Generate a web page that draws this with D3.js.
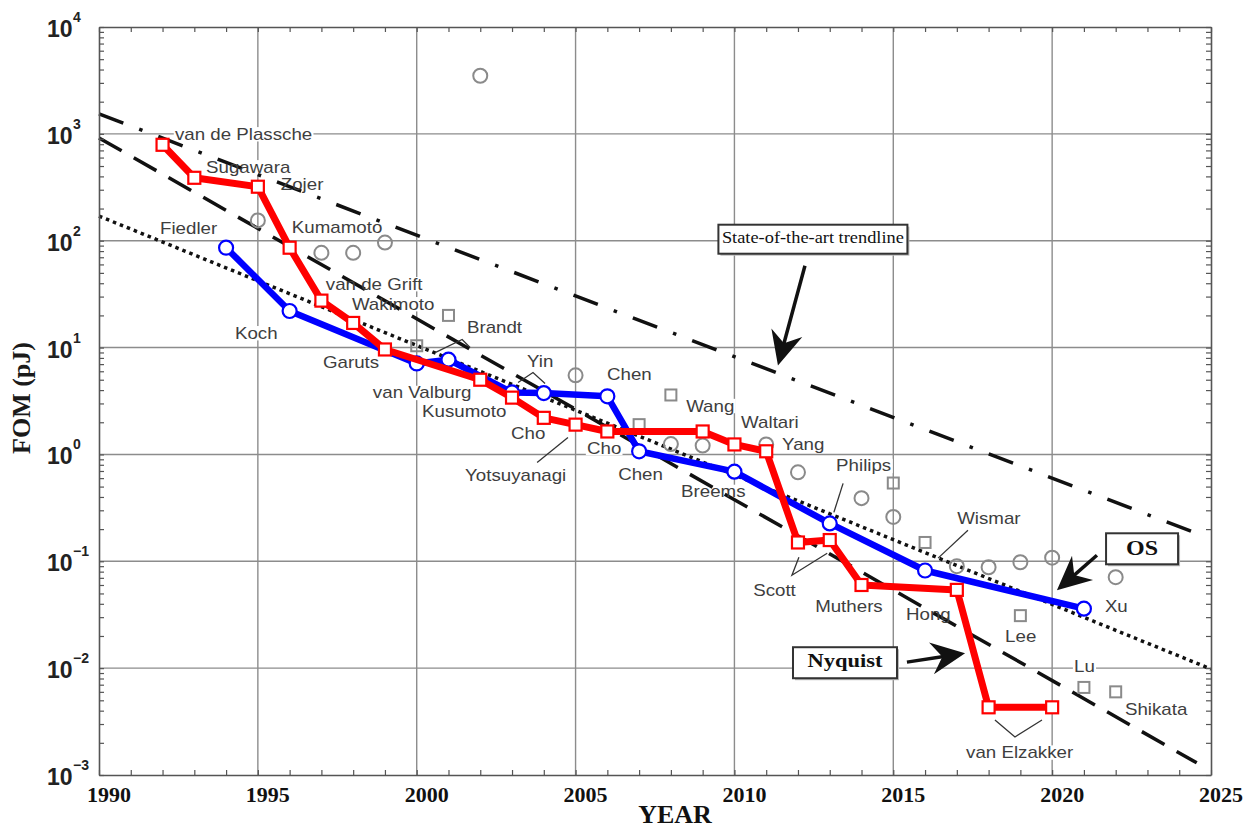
<!DOCTYPE html>
<html>
<head>
<meta charset="utf-8">
<script src="https://cdn.jsdelivr.net/npm/d3@7/dist/d3.min.js"></script>
<style>
body { margin: 0; background: #fff; }
.lbl { font-family: "Liberation Sans", Arial, sans-serif; font-size: 16px; fill: #3e3e3e; }
</style>
</head>
<body>
<div id="main_div"></div>
<script>
// state-of-the-art Nyquist converters (red)
var nyqYears = [1992, 1993, 1995, 1996, 1997, 1998, 1999, 2002, 2003, 2004, 2005, 2006, 2009, 2010, 2011, 2012, 2013, 2014, 2017, 2018, 2020];
var nyqFom = [790, 388, 320, 86, 27.5, 17, 9.6, 5.0, 3.4, 2.2, 1.9, 1.64, 1.64, 1.24, 1.07, 0.15, 0.158, 0.06, 0.054, 0.0043, 0.0043];

// state-of-the-art oversampled converters (blue)
var osYears = [1994, 1996, 2000, 2001, 2003, 2004, 2006, 2007, 2010, 2013, 2016, 2021];
var osFom = [86, 22, 7.1, 7.7, 3.8, 3.75, 3.5, 1.07, 0.69, 0.226, 0.082, 0.036];

// other designs (grey)
var otherOsYears = [1995, 1997, 1998, 1999, 2002, 2005, 2008, 2009, 2011, 2012, 2014, 2015, 2017, 2018, 2019, 2020, 2022];
var otherOsFom = [155, 77, 77, 96, 3500, 5.5, 1.25, 1.21, 1.24, 0.68, 0.39, 0.26, 0.09, 0.088, 0.098, 0.108, 0.071];
var otherNyqYears = [2000, 2001, 2007, 2008, 2015, 2016, 2019, 2021, 2022];
var otherNyqFom = [10.4, 20, 1.9, 3.6, 0.54, 0.15, 0.031, 0.0066, 0.006];

// trend lines: [start year, end year], [start FOM, end FOM]
var dottedYears = [1990, 2025], dottedFom = [170, 0.0098];
var dashedYears = [1990, 2024.55], dashedFom = [915, 0.0013];
var dashDotYears = [1990, 2024.8], dashDotFom = [1540, 0.171];

// tick labels
var xTickYears = [1990, 1995, 2000, 2005, 2010, 2015, 2020, 2025];
var yTickExps = [-3, -2, -1, 0, 1, 2, 3, 4];

// author labels: text, year, FOM (left / baseline)
var labelNames = ["van de Plassche", "Sugawara", "Zojer", "Kumamoto", "Fiedler", "van de Grift", "Wakimoto", "Koch", "Garuts", "Brandt", "Yin", "van Valburg", "Kusumoto", "Cho", "Yotsuyanagi", "Cho", "Chen", "Chen", "Wang", "Waltari", "Yang", "Breems", "Philips", "Scott", "Muthers", "Hong", "Wismar", "Lee", "Lu", "Xu", "Shikata", "van Elzakker"];
var labelYears = [1992.39, 1993.37, 1995.72, 1996.07, 1991.92, 1997.14, 1997.96, 1994.28, 1997.05, 2001.58, 2003.47, 1998.62, 2000.17, 2002.97, 2001.52, 2005.36, 2005.99, 2006.34, 2008.48, 2010.21, 2011.5, 2008.32, 2013.2, 2010.59, 2012.54, 2015.4, 2017.01, 2018.52, 2020.69, 2021.66, 2022.29, 2017.29];
var labelFom = [880, 432, 300, 119, 116, 34.8, 22.6, 12.1, 6.5, 13.8, 6.64, 3.34, 2.22, 1.38, 0.56, 1.02, 4.92, 0.571, 2.52, 1.75, 1.11, 0.396, 0.693, 0.0471, 0.0334, 0.0281, 0.222, 0.0175, 0.00918, 0.0334, 0.00364, 0.00144];

// leader lines / brackets
var leaders = [
    [[2000.58, 8.98], [2001.43, 11.9], [2001.68, 10.0]],
    [[2003.19, 4.71], [2003.66, 5.84], [2004.04, 4.61]],
    [[2003.79, 0.842], [2004.76, 1.44]],
    [[2013.42, 0.536], [2013.13, 0.287]],
    [[2012.03, 0.109], [2011.81, 0.074], [2012.92, 0.119]],
    [[2017.35, 0.195], [2016.41, 0.107]],
    [[2018.2, 0.00327], [2018.83, 0.00227], [2019.68, 0.00327]]
];

// boxed annotations with arrows
var notes = [
    {text: "State-of-the-art trendline", year: 2012.47, fom: 95.8, w: 189, h: 29, up: 18, size: 17, bold: false, len: 182,
     from: [2012.22, 58.4], to: [2011.37, 6.79]},
    {text: "OS", year: 2022.83, fom: 0.1138, w: 72, h: 31, up: 22, size: 20, bold: true, len: 32,
     from: [2021.41, 0.1138], to: [2020.15, 0.0536]},
    {text: "Nyquist", year: 2013.48, fom: 0.0102, w: 104, h: 31, up: 20, size: 19, bold: true, len: 75,
     from: [2015.43, 0.01138], to: [2017.26, 0.0138]}
];

var x_scale = d3.scaleLinear().domain([1990, 2025]).range([99, 1211]);
var y_scale = d3.scaleLog().domain([1e-3, 1e4]).range([775, 27]);

var svg = d3.select("#main_div").append("svg").attr("width", 1258).attr("height", 831);
svg.append("rect").attr("width", 1258).attr("height", 831).attr("fill", "#fff");

// grid
var grid = svg.append("g").attr("stroke", "#8c8c8c").attr("stroke-width", 1.4);
grid.selectAll("line.v").data(d3.range(1995, 2021, 5)).enter().append("line")
    .attr("x1", function(d) { return x_scale(d); }).attr("x2", function(d) { return x_scale(d); })
    .attr("y1", y_scale(1e4)).attr("y2", y_scale(1e-3));
grid.selectAll("line.h").data([1e-2, 1e-1, 1, 10, 100, 1000]).enter().append("line")
    .attr("y1", function(d) { return y_scale(d); }).attr("y2", function(d) { return y_scale(d); })
    .attr("x1", x_scale(1990)).attr("x2", x_scale(2025));

var bgLayer = svg.append("g");

// trend lines
var line = d3.line().x(function(d) { return x_scale(d[0]); }).y(function(d) { return y_scale(d[1]); });
svg.append("path").datum(d3.zip(dottedYears, dottedFom)).attr("d", line)
    .attr("fill", "none").attr("stroke", "#111").attr("stroke-width", 3.5).attr("stroke-dasharray", "3.5,4");
svg.append("path").datum(d3.zip(dashedYears, dashedFom)).attr("d", line)
    .attr("fill", "none").attr("stroke", "#111").attr("stroke-width", 3.5).attr("stroke-dasharray", "26,14");
svg.append("path").datum(d3.zip(dashDotYears, dashDotFom)).attr("d", line)
    .attr("fill", "none").attr("stroke", "#111").attr("stroke-width", 3.5).attr("stroke-dasharray", "26,17,3.5,17");

// grey markers
svg.append("g").selectAll("circle").data(d3.zip(otherOsYears, otherOsFom)).enter().append("circle")
    .attr("cx", function(d) { return x_scale(d[0]); })
    .attr("cy", function(d) { return y_scale(d[1]); })
    .attr("r", 7).attr("fill", "none").attr("stroke", "#8a8a8a").attr("stroke-width", 2);
svg.append("g").selectAll("rect").data(d3.zip(otherNyqYears, otherNyqFom)).enter().append("rect")
    .attr("x", function(d) { return x_scale(d[0]) - 5.5; })
    .attr("y", function(d) { return y_scale(d[1]) - 5.5; })
    .attr("width", 11).attr("height", 11).attr("fill", "none").attr("stroke", "#8a8a8a").attr("stroke-width", 2);

// OS series
var os = d3.zip(osYears, osFom);
svg.append("path").datum(os).attr("d", line).attr("fill", "none").attr("stroke", "#0000ff")
    .attr("stroke-width", 6.5).attr("stroke-linejoin", "round");
svg.append("g").selectAll("circle").data(os).enter().append("circle")
    .attr("cx", function(d) { return x_scale(d[0]); })
    .attr("cy", function(d) { return y_scale(d[1]); })
    .attr("r", 7).attr("fill", "#fff").attr("stroke", "#0000ff").attr("stroke-width", 2.2);

// Nyquist series
var nyq = d3.zip(nyqYears, nyqFom);
svg.append("path").datum(nyq).attr("d", line).attr("fill", "none").attr("stroke", "#ff0000")
    .attr("stroke-width", 7).attr("stroke-linejoin", "round");
svg.append("g").selectAll("rect").data(nyq).enter().append("rect")
    .attr("x", function(d) { return x_scale(d[0]) - 6; })
    .attr("y", function(d) { return y_scale(d[1]) - 6; })
    .attr("width", 12).attr("height", 12).attr("fill", "#fff").attr("stroke", "#ff0000").attr("stroke-width", 2.2);

// author labels (with white backing that breaks the grid)
var labels = d3.zip(labelNames, labelYears, labelFom);
var lblG = svg.append("g").selectAll("g").data(labels).enter().append("g")
    .attr("transform", function(d) { return "translate(" + x_scale(d[1]) + "," + y_scale(d[2]) + ") scale(1.17,1)"; });
lblG.append("text").attr("class", "lbl").text(function(d) { return d[0]; });
lblG.each(function(d) {
    var b = d3.select(this).select("text").node().getBBox();
    bgLayer.append("rect").attr("transform", d3.select(this).attr("transform"))
        .attr("x", b.x - 1).attr("y", b.y + 2).attr("width", b.width + 2).attr("height", b.height - 4)
        .attr("fill", "#fff");
});

// leaders
svg.append("g").selectAll("path").data(leaders).enter().append("path")
    .attr("d", line).attr("fill", "none").attr("stroke", "#333").attr("stroke-width", 1.3);

// annotations
notes.forEach(function(n) {
    var cx = x_scale(n.year), by = y_scale(n.fom);
    svg.append("rect").attr("x", cx - n.w / 2 + 2).attr("y", by - n.up + 2).attr("width", n.w).attr("height", n.h)
        .attr("fill", "#bbb");
    svg.append("rect").attr("x", cx - n.w / 2).attr("y", by - n.up).attr("width", n.w).attr("height", n.h)
        .attr("fill", "#fff").attr("stroke", "#333").attr("stroke-width", 2);
    svg.append("text").attr("x", cx).attr("y", by).attr("text-anchor", "middle")
        .attr("font-family", "'Liberation Serif', 'Times New Roman', serif")
        .attr("font-weight", n.bold ? "bold" : "normal").attr("font-size", n.size)
        .attr("textLength", n.len).attr("lengthAdjust", "spacingAndGlyphs")
        .attr("fill", "#111").text(n.text);
    var x0 = x_scale(n.from[0]), y0 = y_scale(n.from[1]);
    var x1 = x_scale(n.to[0]), y1 = y_scale(n.to[1]);
    var ang = Math.atan2(y1 - y0, x1 - x0);
    var len = Math.sqrt((x1 - x0) * (x1 - x0) + (y1 - y0) * (y1 - y0));
    var g = svg.append("g").attr("transform", "translate(" + x0 + "," + y0 + ") rotate(" + (ang * 180 / Math.PI) + ")");
    g.append("line").attr("x1", 0).attr("y1", 0).attr("x2", len - 20).attr("y2", 0)
        .attr("stroke", "#111").attr("stroke-width", 3.5);
    g.append("path").attr("d", "M" + len + ",0 L" + (len - 34) + ",-16 L" + (len - 23) + ",0 L" + (len - 34) + ",16 Z")
        .attr("fill", "#111");
});

// frame and ticks
var minorY = [];
d3.range(-3, 4).forEach(function(e) {
    d3.range(1, 10).forEach(function(k) { minorY.push(k * Math.pow(10, e)); });
});
minorY.push(1e4);
var years = d3.range(1990, 2026);
var axes = svg.append("g");
axes.append("g").attr("transform", "translate(0,775)")
    .call(d3.axisBottom(x_scale).tickValues(years).tickSize(-5).tickSizeOuter(0).tickFormat(""));
axes.append("g").attr("transform", "translate(0,27)")
    .call(d3.axisTop(x_scale).tickValues(years).tickSize(-5).tickSizeOuter(0).tickFormat(""));
axes.append("g").attr("transform", "translate(99,0)")
    .call(d3.axisLeft(y_scale).tickValues(minorY).tickSize(-5).tickSizeOuter(0).tickFormat(""));
axes.append("g").attr("transform", "translate(1211,0)")
    .call(d3.axisRight(y_scale).tickValues(minorY).tickSize(-5).tickSizeOuter(0).tickFormat(""));
axes.selectAll("path.domain").attr("stroke", "#555").attr("stroke-width", 1.6);
axes.selectAll(".tick line").attr("stroke", "#555").attr("stroke-width", 1.2);

// tick labels
svg.append("g").selectAll("text").data(xTickYears).enter().append("text")
    .attr("x", function(d) { return x_scale(d) + 10; }).attr("y", 802)
    .attr("text-anchor", "middle").attr("font-family", "'Liberation Serif', 'Times New Roman', serif")
    .attr("font-weight", "bold").attr("font-size", 22).attr("fill", "#111")
    .text(function(d) { return d; });
var yl = svg.append("g").selectAll("g").data(yTickExps).enter().append("g")
    .attr("font-family", "'Liberation Sans', Arial, sans-serif").attr("font-weight", "bold").attr("fill", "#222");
yl.append("text").attr("x", 47).attr("y", function(d) { return y_scale(Math.pow(10, d)) + 10; })
    .attr("font-size", 23).text("10");
yl.append("text").attr("x", 73).attr("y", function(d) { return y_scale(Math.pow(10, d)) - 5; })
    .attr("font-size", 14).text(function(d) { return d < 0 ? "\u2212" + (-d) : d; });

// axis titles
svg.append("text").attr("x", 675).attr("y", 823).attr("text-anchor", "middle")
    .attr("font-family", "'Liberation Serif', 'Times New Roman', serif").attr("font-weight", "bold")
    .attr("font-size", 26).attr("fill", "#111").text("YEAR");
svg.append("text").attr("transform", "translate(30,398) rotate(-90)").attr("text-anchor", "middle")
    .attr("font-family", "'Liberation Serif', 'Times New Roman', serif").attr("font-weight", "bold")
    .attr("font-size", 26).attr("fill", "#1a1a1a").text("FOM (pJ)");
</script>
</body>
</html>
